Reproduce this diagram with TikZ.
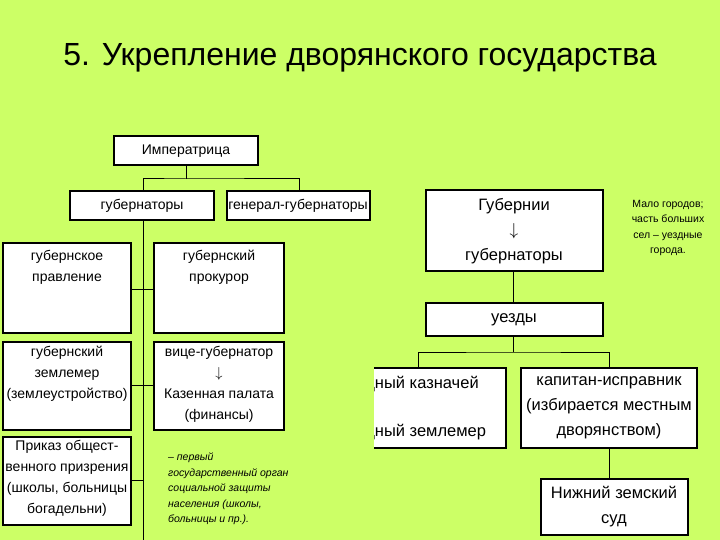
\documentclass[tikz,border=0pt]{standalone}
\usepackage{fontspec}
\setmainfont{Liberation Sans}
\begin{document}
\begin{tikzpicture}[x=1pt,y=-1pt,
  bx/.style={draw=black,line width=1.2pt,fill=white},
  t/.style={align=center,font=\fontsize{14}{21}\selectfont,inner sep=0pt},
  tb/.style={align=center,font=\fontsize{16.5}{25}\selectfont,inner sep=0pt},
  ln/.style={line width=1pt}]
\fill[fill={rgb,255:red,204;green,255;blue,102}] (0,0) rectangle (720,540);
\useasboundingbox (0,0) rectangle (720,540);
\node[font=\fontsize{32}{36}\selectfont] (title) at (360,58) {5. Укрепление дворянского государства};
% left tree
\draw[ln] (186,165) -- (186,179) coordinate (c1);
\draw[ln] (143,191) |- (c1) -| (299,191);
\draw[ln] (143,220) -- (143,540) coordinate (cend);
\draw[ln] (131,289) -- (154,289);
\draw[ln] (131,385) -- (154,385);
\draw[ln] (131,480) -- (143,480);
\draw[bx] (114,136) rectangle (258,165); \node[t] (imp) at (186,151) {Императрица};
\draw[bx] (70,191) rectangle (214,220); \node[t] (gub) at (142,206) {губернаторы};
\draw[bx] (227,191) rectangle (370,220); \node[t] (gg) at (298,206) {генерал-губернаторы};
\draw[bx] (3,243) rectangle (131,333); \node[t,anchor=north] (gp) at (67,250) {губернское\\правление};
\draw[bx] (154,243) rectangle (284,333); \node[t,anchor=north] (gpr) at (219,250) {губернский\\прокурор};
\draw[bx] (3,342) rectangle (131,430); \node[t,anchor=north] (gz) at (67,346) {губернский\\землемер\\(землеустройство)};
\draw[bx] (154,342) rectangle (284,430); \node[t,anchor=north] (vg) at (219,346) {вице-губернатор\\$\downarrow$\\Казенная палата\\(финансы)};
\draw[bx] (3,437) rectangle (131,525); \node[t,anchor=north] (pr) at (67,440) {Приказ общест-\\венного призрения\\(школы, больницы\\богадельни)};
\node[align=left,anchor=north west,inner sep=0pt,font=\fontsize{10.5}{15.5}\itshape\selectfont] (note1) at (168,453) {– первый\\государственный орган\\социальной защиты\\населения (школы,\\больницы и пр.).};
% right tree
\draw[ln] (513,271) -- (513,303);
\draw[ln] (513,336) -- (513,352) coordinate (c2);
\draw[ln] (418,368) |- (c2) -| (609,368);
\draw[ln] (609,448) -- (609,479);
\draw[bx] (426,190) rectangle (603,271); \node[tb] (gb) at (514,231) {Губернии\\$\downarrow$\\губернаторы};
\draw[bx] (426,303) rectangle (603,336); \node[tb] (uz) at (514,320) {уезды};
\begin{scope}
\clip (374,300) rectangle (520,460);
\draw[bx] (360,368) rectangle (506,448);
\node[tb,anchor=west] (kz) at (341,384) {уездный казначей};
\node[tb,anchor=west] (zm) at (341,432) {уездный землемер};
\end{scope}
\draw[bx] (521,368) rectangle (697,448); \node[tb] (ki) at (609,408) {капитан-исправник\\(избирается местным\\дворянством)};
\draw[bx] (541,479) rectangle (688,535); \node[tb] (nz) at (614,507) {Нижний земский\\суд};
\node[t,font=\fontsize{10.5}{15.5}\selectfont] (note2) at (668,228) {Мало городов;\\часть больших\\сел – уездные\\города.};
\end{tikzpicture}
\end{document}
